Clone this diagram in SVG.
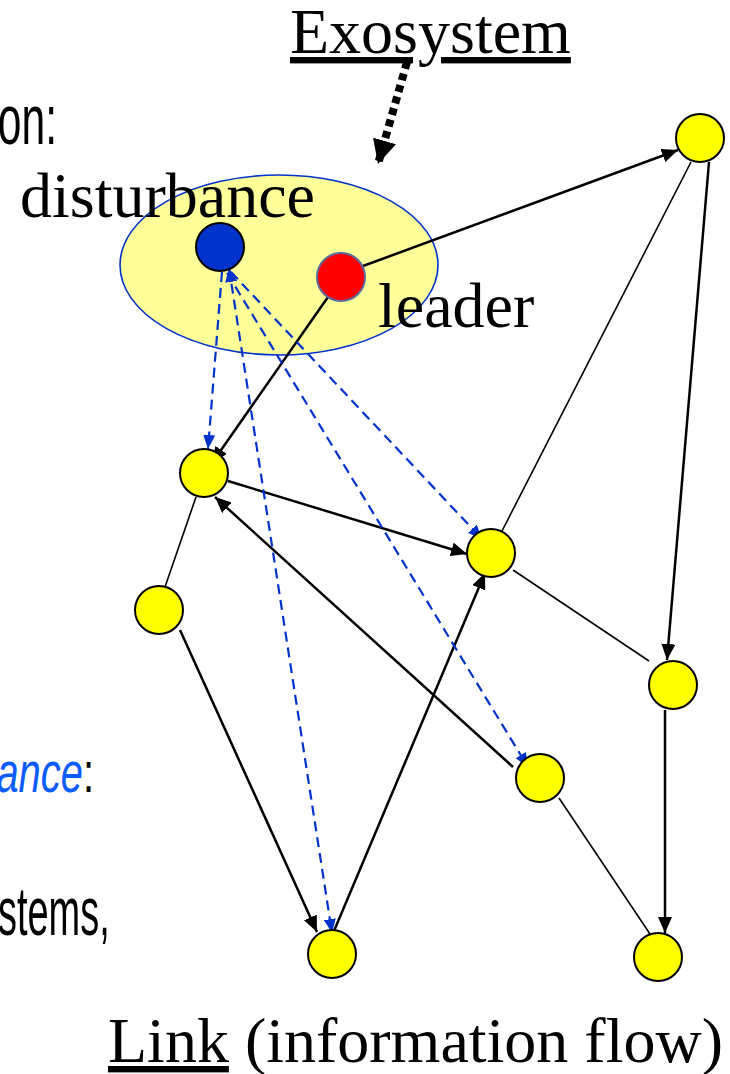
<svg xmlns="http://www.w3.org/2000/svg" width="730" height="1074" viewBox="0 0 730 1074">
<style>
.serif{font-family:"Liberation Serif","Times New Roman",serif;font-size:64px;fill:#000}
.sans{font-family:"Liberation Sans",Arial,sans-serif;fill:#000}
.node{fill:#ffff00;stroke:#000;stroke-width:2}
.arr{stroke:#000;stroke-width:2.5;fill:none;marker-end:url(#ah)}
.thin{stroke:#000;stroke-width:1.6;fill:none}
.dash{stroke:#0033cc;stroke-width:2.2;fill:none;stroke-dasharray:10 6;marker-end:url(#bh)}
</style>
<defs>
<marker id="ah" markerUnits="userSpaceOnUse" markerWidth="16" markerHeight="14" refX="16" refY="7" orient="auto">
<path d="M0,0 L16,7 L0,14 z" fill="#000"/>
</marker>
<marker id="bh" markerUnits="userSpaceOnUse" markerWidth="14" markerHeight="12" refX="14" refY="6" orient="auto">
<path d="M0,0 L14,6 L0,12 z" fill="#0033cc"/>
</marker>
<marker id="bhs" markerUnits="userSpaceOnUse" markerWidth="14" markerHeight="12" refX="0" refY="6" orient="auto">
<path d="M14,0 L0,6 L14,12 z" fill="#0033cc"/>
</marker>
<marker id="bigh" markerUnits="userSpaceOnUse" markerWidth="24" markerHeight="24" refX="24" refY="12" orient="auto">
<path d="M0,0 L24,12 L0,24 z" fill="#000"/>
</marker>
</defs>
<rect width="730" height="1074" fill="#fff"/>

<g id="exosystem-ellipse">
<ellipse cx="279" cy="265" rx="159" ry="90" fill="#ffff99" stroke="#0033cc" stroke-width="1.6"/>
</g>

<g id="labels">
<text class="serif" x="290" y="53" text-decoration="underline">Exosystem</text>
<text class="serif" x="20" y="217">disturbance</text>
<text class="serif" x="378" y="327">leader</text>
<text class="serif" x="108" y="1062"><tspan text-decoration="underline">Link</tspan> (information flow)</text>
<text class="sans" font-size="71" text-anchor="end" transform="translate(57,144) scale(0.6,1)">on:</text>
<text class="sans" font-size="57" text-anchor="end" transform="translate(94,792) scale(0.7,1)"><tspan fill="#0a5cff" font-style="italic">ance</tspan>:</text>
<text class="sans" font-size="69" transform="translate(-2,935) scale(0.55,1)">stems,</text>
</g>

<g id="connectors">
<line x1="407" y1="62" x2="378" y2="164" stroke="#000" stroke-width="8" stroke-dasharray="7 5" marker-end="url(#bigh)"/>
<line class="arr" x1="363" y1="266" x2="678" y2="150"/>
<line class="arr" x1="328" y1="297" x2="212" y2="463"/>
<line class="arr" x1="228" y1="481" x2="467" y2="554"/>
<line class="arr" x1="513" y1="767" x2="215" y2="497"/>
<line class="arr" x1="334" y1="931" x2="485" y2="573"/>
<line class="arr" x1="180" y1="630" x2="317" y2="932"/>
<line class="arr" x1="709" y1="162" x2="667" y2="660"/>
<line class="arr" x1="665" y1="710" x2="665" y2="933"/>
<line class="thin" x1="691" y1="162" x2="502" y2="531"/>
<line class="thin" x1="513" y1="570" x2="649" y2="661"/>
<line class="thin" x1="196" y1="497" x2="165" y2="587"/>
<line class="thin" x1="559" y1="798" x2="650" y2="934"/>
<line class="dash" x1="222" y1="272" x2="208" y2="449"/>
<line class="dash" x1="229" y1="268" x2="332" y2="933" marker-start="url(#bhs)"/>
<line class="dash" x1="231" y1="272" x2="482" y2="539"/>
<line class="dash" x1="227" y1="273" x2="528" y2="767"/>
</g>

<g id="disturbance"><circle cx="220" cy="247" r="24" fill="#0033cc" stroke="#000" stroke-width="2"/></g>
<g id="leader"><circle cx="341" cy="277" r="24" fill="#ff0000" stroke="#5a6a9a" stroke-width="2"/></g>
<g id="n1"><circle class="node" cx="700" cy="138" r="24"/></g>
<g id="n2"><circle class="node" cx="204" cy="473" r="24"/></g>
<g id="n3"><circle class="node" cx="491" cy="553" r="24"/></g>
<g id="n4"><circle class="node" cx="159" cy="610" r="24"/></g>
<g id="n5"><circle class="node" cx="673" cy="685" r="24"/></g>
<g id="n6"><circle class="node" cx="540" cy="778" r="24"/></g>
<g id="n7"><circle class="node" cx="332" cy="954" r="24"/></g>
<g id="n8"><circle class="node" cx="658" cy="957" r="24"/></g>
</svg>
